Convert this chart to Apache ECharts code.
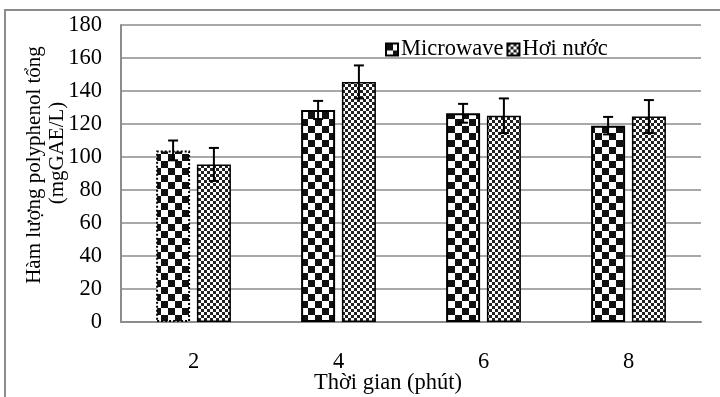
<!DOCTYPE html>
<html><head><meta charset="utf-8">
<script src="https://cdn.jsdelivr.net/npm/echarts@6/dist/echarts.min.js"></script>
<style>html,body{margin:0;padding:0;background:#fff}#c{width:720px;height:397px}</style>
</head><body><div id="c"></div>
<script>
const categories = ['2', '4', '6', '8'];
const seriesNames = ['Microwave', 'Hơi nước'];
const microwave = [104, 128.5, 126.5, 119];
const microwaveErr = [6, 5.5, 5.7, 5.3];
const hoiNuoc = [95.5, 145.5, 125, 124.5];
const hoiNuocErr = [10, 10, 10.5, 10];
const yTicks = [0, 20, 40, 60, 80, 100, 120, 140, 160, 180];
const xTitle = 'Thời gian (phút)';
const yTitle1 = 'Hàm lượng polyphenol tổng';
const yTitle2 = '(mgGAE/L)';

function checker(cell, dark) {
  const c = document.createElement('canvas');
  c.width = cell * 2; c.height = cell * 2;
  const g = c.getContext('2d');
  g.fillStyle = '#fff'; g.fillRect(0, 0, c.width, c.height);
  g.fillStyle = dark;
  g.fillRect(0, 0, cell, cell);
  g.fillRect(cell, cell, cell, cell);
  return c;
}
const patBig = { image: checker(7, '#111'), repeat: 'repeat' };
const patSmall = { image: checker(3, '#222'), repeat: 'repeat' };

const FONT = '"Liberation Serif", "Times New Roman", serif';
const FS = 22.5;
const BAR_W = 34, GAP = 0.2;
const OFF = (BAR_W + BAR_W * GAP) / 2;

function errSeries(vals, errs, dx) {
  return {
    type: 'custom', silent: true, z: 10,
    data: vals.map((v, i) => [i, v, errs[i]]),
    renderItem: function (params, api) {
      const x = api.coord([api.value(0), 0])[0] + dx;
      const top = api.coord([api.value(0), api.value(1) + api.value(2)])[1];
      const bot = api.coord([api.value(0), api.value(1) - api.value(2)])[1];
      const st = { stroke: '#000', lineWidth: 2 };
      return { type: 'group', children: [
        { type: 'line', shape: { x1: x, y1: top, x2: x, y2: bot }, style: st },
        { type: 'line', shape: { x1: x - 5, y1: top, x2: x + 5, y2: top }, style: st },
        { type: 'line', shape: { x1: x - 5, y1: bot, x2: x + 5, y2: bot }, style: st }
      ]};
    }
  };
}

const chart = echarts.init(document.getElementById('c'), null, { renderer: 'canvas' });
chart.setOption({
  animation: false,
  backgroundColor: '#fff',
  textStyle: { fontFamily: FONT },
  grid: { left: 121, right: 19, top: 25, bottom: 75, containLabel: false },
  legend: {
    left: 380, top: 33, itemWidth: 12, itemHeight: 12, itemGap: 3,
    icon: 'rect',
    textStyle: { fontSize: FS, fontFamily: FONT, color: '#000', padding: [0, 0, 0, -2] },
    data: seriesNames
  },
  xAxis: {
    type: 'category', data: categories,
    axisLine: { lineStyle: { color: '#8c8c8c', width: 2 } },
    axisTick: { show: false },
    axisLabel: { fontSize: FS, fontFamily: FONT, color: '#000', margin: 29 }
  },
  yAxis: {
    type: 'value', min: yTicks[0], max: yTicks[yTicks.length - 1], interval: yTicks[1] - yTicks[0],
    axisLine: { show: true, lineStyle: { color: '#8c8c8c', width: 2 } },
    axisTick: { show: false },
    splitLine: { lineStyle: { color: '#a8a8a8', width: 2 } },
    axisLabel: { fontSize: FS, fontFamily: FONT, color: '#000', margin: 19 }
  },
  series: [
    {
      name: seriesNames[0], type: 'bar', barWidth: BAR_W, barGap: (GAP * 100) + '%',
      itemStyle: { color: patBig, borderColor: '#000', borderWidth: 2 },
      data: microwave.map((v, i) => i === 0 ? { value: v, itemStyle: { borderType: 'dotted' } } : v)
    },
    {
      name: seriesNames[1], type: 'bar', barWidth: BAR_W,
      itemStyle: { color: patSmall, borderColor: '#000', borderWidth: 1.5 },
      data: hoiNuoc
    },
    errSeries(microwave, microwaveErr, -OFF),
    errSeries(hoiNuoc, hoiNuocErr, OFF)
  ],
  graphic: [
    { type: 'rect', shape: { x: 5, y: 10, width: 760, height: 500 }, style: { fill: 'none', stroke: '#8c8c8c', lineWidth: 2 }, silent: true },
    { type: 'text', x: 388, y: 383, style: { text: xTitle, font: FS + 'px ' + FONT, fill: '#000', textAlign: 'center', textVerticalAlign: 'middle' } },
    { type: 'text', x: 34, y: 165, rotation: Math.PI / 2, style: { text: yTitle1, font: '21px ' + FONT, fill: '#000', textAlign: 'center', textVerticalAlign: 'middle' } },
    { type: 'text', x: 57, y: 153, rotation: Math.PI / 2, style: { text: yTitle2, font: '21px ' + FONT, fill: '#000', textAlign: 'center', textVerticalAlign: 'middle' } }
  ]
});
</script></body></html>
